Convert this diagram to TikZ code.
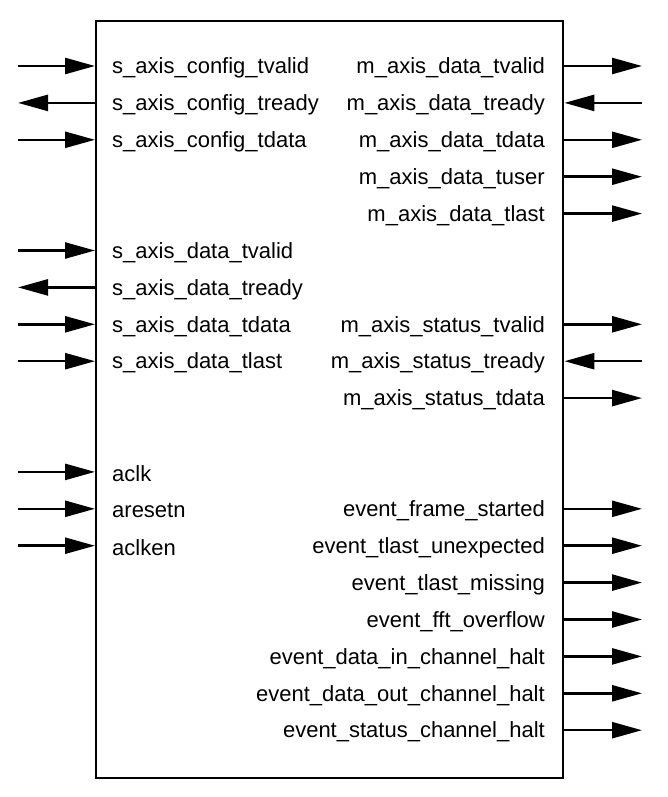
\documentclass[tikz,border=0pt]{standalone}
\usepackage{fontspec}
\setmainfont{Liberation Sans}
\usetikzlibrary{arrows.meta}
\begin{document}
\begin{tikzpicture}[x=1pt,y=-1pt,
  sig/.style={line width=2.5pt,-{Triangle[length=30pt,width=16pt]}},
  lab/.style={font=\fontsize{22}{24}\selectfont,inner sep=0pt},
  blkstyle/.style={draw,line width=2.4pt,minimum width=467pt,minimum height=757pt,inner sep=0pt}]
\useasboundingbox (0,0) rectangle (667,797);
\node[blkstyle,anchor=north west] (blk) at (95,20) {};
% left ports: name/text/row/direction (1=in,0=out)
\foreach \n/\t/\r/\d in {l1/s\_axis\_config\_tvalid/0/1,l2/s\_axis\_config\_tready/1/0,l3/s\_axis\_config\_tdata/2/1,
  l4/s\_axis\_data\_tvalid/5/1,l5/s\_axis\_data\_tready/6/0,l6/s\_axis\_data\_tdata/7/1,l7/s\_axis\_data\_tlast/8/1,
  l8/aclk/11/1,l9/aresetn/12/1,l10/aclken/13/1}{
  \pgfmathsetmacro{\yy}{66+36.9*\r}
  \node[lab,anchor=west] (\n) at (112,\yy+2) {\t};
  \coordinate (\n e) at (18,\yy);
  \ifnum\d=1
    \draw[sig] (\n e) -- (blk.west |- \n e);
  \else
    \draw[sig] (blk.west |- \n e) -- (\n e);
  \fi
}
\foreach \n/\t/\r/\d in {r1/m\_axis\_data\_tvalid/0/1,r2/m\_axis\_data\_tready/1/0,r3/m\_axis\_data\_tdata/2/1,
  r4/m\_axis\_data\_tuser/3/1,r5/m\_axis\_data\_tlast/4/1,
  r6/m\_axis\_status\_tvalid/7/1,r7/m\_axis\_status\_tready/8/0,r8/m\_axis\_status\_tdata/9/1,
  r9/event\_frame\_started/12/1,r10/event\_tlast\_unexpected/13/1,r11/event\_tlast\_missing/14/1,
  r12/event\_fft\_overflow/15/1,r13/event\_data\_in\_channel\_halt/16/1,r14/event\_data\_out\_channel\_halt/17/1,
  r15/event\_status\_channel\_halt/18/1}{
  \pgfmathsetmacro{\yy}{66+36.9*\r}
  \node[lab,anchor=east] (\n) at (545,\yy+2) {\t};
  \coordinate (\n e) at (642,\yy);
  \ifnum\d=1
    \draw[sig] (blk.east |- \n e) -- (\n e);
  \else
    \draw[sig] (\n e) -- (blk.east |- \n e);
  \fi
}
\end{tikzpicture}
\end{document}
